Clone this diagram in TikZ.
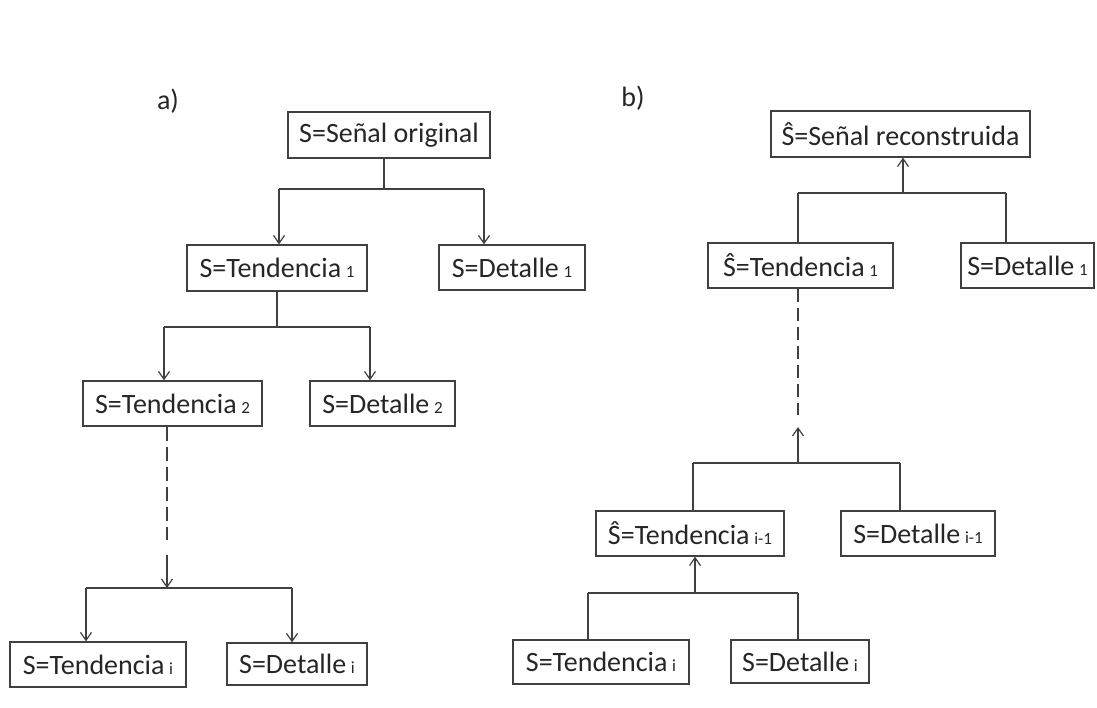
\documentclass[tikz,border=0pt]{standalone}
\usepackage{fontspec}
\setmainfont{Carlito}
\usetikzlibrary{arrows.meta}
\definecolor{ln}{HTML}{404040}
\definecolor{tx}{HTML}{262626}
\newcommand{\sbs}[1]{\,{\fontsize{17}{17}\selectfont #1}}
\tikzset{
  box/.style={draw=ln, line width=1.2pt, inner sep=0pt, text=tx, font=\fontsize{28}{30}\selectfont, anchor=center},
  conn/.style={draw=ln, line width=1.2pt},
  arr/.style={conn, -{Straight Barb[length=8pt,width=11pt,line width=1.2pt]}},
  dshL/.style={conn, dash pattern=on 14pt off 6pt},
  dshR/.style={conn, dash pattern=on 13.5pt off 5.5pt},
  lbl/.style={text=tx, font=\fontsize{28}{30}\selectfont}
}
\begin{document}
\begin{tikzpicture}[x=1pt,y=-1pt]
\useasboundingbox[fill=white] (0,0) rectangle (1097,707);
% labels
\node[lbl] (la) at (168,101) {a)};
\node[lbl] (lb) at (633,98) {b)};
% left tree boxes
\node[box, minimum width=202pt, minimum height=46pt] (A0) at (389,135) {S=Señal original};
\node[box, minimum width=180pt, minimum height=46pt] (A1) at (277,268) {S=Tendencia\sbs{1}};
\node[box, minimum width=146pt, minimum height=45pt] (A1d) at (512,267.5) {S=Detalle\sbs{1}};
\node[box, minimum width=179pt, minimum height=45pt] (A2) at (172.5,403.5) {S=Tendencia\sbs{2}};
\node[box, minimum width=145pt, minimum height=45pt] (A2d) at (382.5,403.5) {S=Detalle\sbs{2}};
\node[box, minimum width=176pt, minimum height=45pt] (Ai) at (98,664.5) {S=Tendencia\sbs{i}};
\node[box, minimum width=140pt, minimum height=42pt] (Aid) at (297,664) {S=Detalle\sbs{i}};
% right tree boxes
\node[box, minimum width=259pt, minimum height=46pt] (B0) at (900.5,134) {Ŝ=Señal reconstruida};
\node[box, minimum width=185pt, minimum height=45pt] (B1) at (800.5,265.5) {Ŝ=Tendencia\sbs{1}};
\node[box, minimum width=133pt, minimum height=45pt] (B1d) at (1027.5,265.5) {S=Detalle\sbs{1}};
\node[box, minimum width=188pt, minimum height=45pt] (Bi1) at (690,533.5) {Ŝ=Tendencia\sbs{i-1}};
\node[box, minimum width=154pt, minimum height=45pt] (Bi1d) at (918,533.5) {S=Detalle\sbs{i-1}};
\node[box, minimum width=176pt, minimum height=44pt] (Bi) at (601,662) {S=Tendencia\sbs{i}};
\node[box, minimum width=138pt, minimum height=43pt] (Bid) at (800,661.5) {S=Detalle\sbs{i}};
% left connectors
\coordinate (ja) at (384,189); \coordinate (jaL) at (279,189); \coordinate (jaR) at (484,189);
\draw[conn] (A0.south -| ja) -- (ja);
\draw[conn] (jaL) -- (jaR);
\draw[arr] (jaL) -- (jaL |- A1.north);
\draw[arr] (jaR) -- (jaR |- A1d.north);
\coordinate (jb) at (277,327); \coordinate (jbL) at (164,327); \coordinate (jbR) at (370,327);
\draw[conn] (A1.south -| jb) -- (jb);
\draw[conn] (jbL) -- (jbR);
\draw[arr] (jbL) -- (jbL |- A2.north);
\draw[arr] (jbR) -- (jbR |- A2d.north);
\coordinate (jc) at (167,588); \coordinate (dc) at (167,540); \coordinate (sc) at (167,555);
\coordinate (jcL) at (86,588); \coordinate (jcR) at (292,588);
\draw[dshL] (A2.south -| jc) -- (dc);
\draw[arr] (sc) -- (jc);
\draw[conn] (jcL) -- (jcR);
\draw[arr] (jcL) -- (jcL |- Ai.north);
\draw[arr] (jcR) -- (jcR |- Aid.north);
% right connectors
\coordinate (ka) at (903,193); \coordinate (kaL) at (798,193); \coordinate (kaR) at (1006,193);
\draw[arr] (ka) -- (ka |- B0.south);
\draw[conn] (kaL) -- (kaR);
\draw[conn] (kaL) -- (kaL |- B1.north);
\draw[conn] (kaR) -- (kaR |- B1d.north);
\coordinate (kb) at (798,463); \coordinate (db) at (798,415); \coordinate (ab) at (798,427);
\coordinate (kbL) at (693,463); \coordinate (kbR) at (900,463);
\draw[dshR] (B1.south -| kb) -- (db);
\draw[arr] (kb) -- (ab);
\draw[conn] (kbL) -- (kbR);
\draw[conn] (kbL) -- (kbL |- Bi1.north);
\draw[conn] (kbR) -- (kbR |- Bi1d.north);
\coordinate (kc) at (695,593); \coordinate (kcL) at (588,593); \coordinate (kcR) at (798,593);
\draw[arr] (kc) -- (kc |- Bi1.south);
\draw[conn] (kcL) -- (kcR);
\draw[conn] (kcL) -- (kcL |- Bi.north);
\draw[conn] (kcR) -- (kcR |- Bid.north);
\end{tikzpicture}
\end{document}
